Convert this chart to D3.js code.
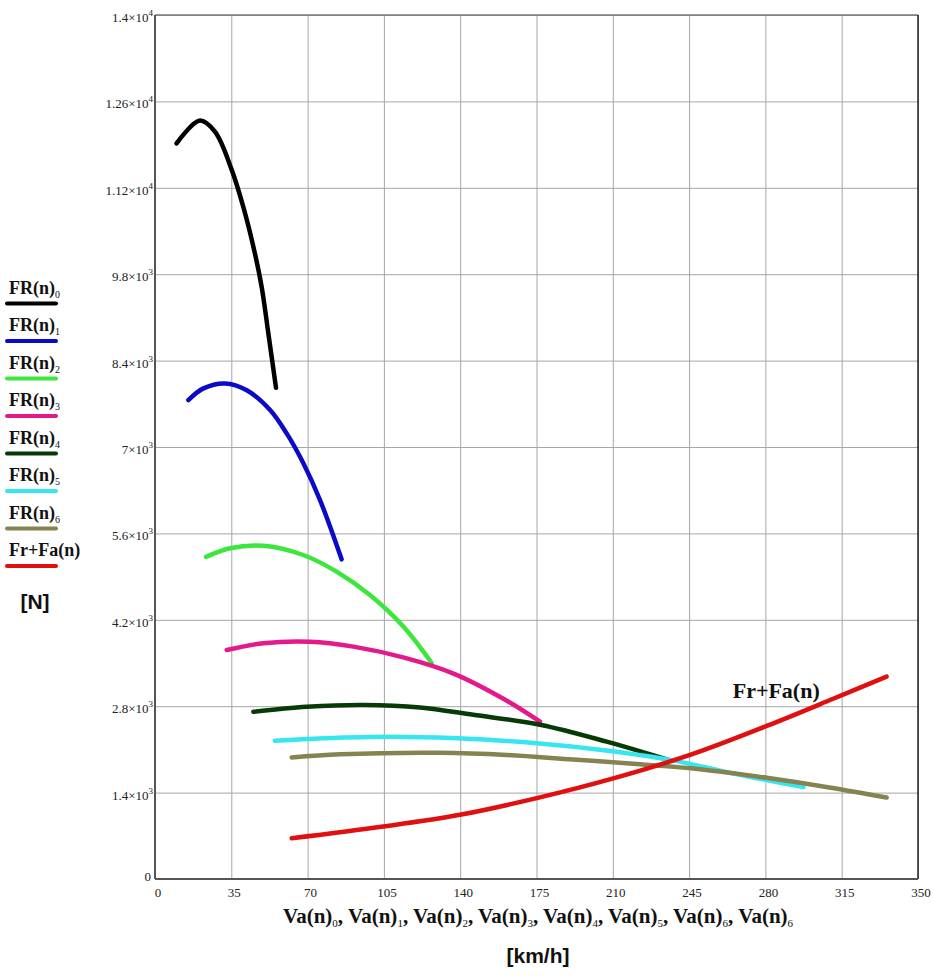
<!DOCTYPE html>
<html>
<head>
<meta charset="utf-8">
<script src="https://cdn.jsdelivr.net/npm/d3@7/dist/d3.min.js"></script>
<style>
  html, body { margin: 0; padding: 0; background: #fff; }
  svg { display: block; }
  .grid line { stroke: #a6a6a6; stroke-width: 1; }
  .grid path { display: none; }
  .tick-lbl { font-family: "Liberation Serif", "Times New Roman", serif; font-size: 13px; fill: #222; }
  .serif-b { font-family: "Liberation Serif", "Times New Roman", serif; font-weight: bold; fill: #111; }
  .sans-b { font-family: "Liberation Sans", Arial, sans-serif; font-weight: bold; fill: #111; }
</style>
</head>
<body>
<div id="chart"></div>
<script>
// Tractive force per gear FR(n)_i and resistance Fr+Fa(n) vs. vehicle speed
const xTicks = [0, 35, 70, 105, 140, 175, 210, 245, 280, 315, 350];
const yTicks = [0, 1400, 2800, 4200, 5600, 7000, 8400, 9800, 11200, 12600, 14000];
const yTickLabels = [["0", ""], ["1.4", "3"], ["2.8", "3"], ["4.2", "3"], ["5.6", "3"], ["7", "3"],
  ["8.4", "3"], ["9.8", "3"], ["1.12", "4"], ["1.26", "4"], ["1.4", "4"]];

const legendNames = [["FR(n)", "0"], ["FR(n)", "1"], ["FR(n)", "2"], ["FR(n)", "3"],
  ["FR(n)", "4"], ["FR(n)", "5"], ["FR(n)", "6"], ["Fr+Fa(n)", ""]];
const xTitleSubs = ["0", "1", "2", "3", "4", "5", "6", "6"];
const colors = ["#000000", "#0a0ac8", "#3ce63c", "#e3198c", "#073a07", "#38e6f0", "#858350", "#e01010"];

// speeds (km/h) and forces (N) per gear
const v0 = [9.9, 20.6, 27.5, 35.2, 40.5, 45.1, 48.9, 52.0, 55.5];
const f0 = [11920, 12290, 12110, 11490, 10890, 10250, 9600, 8840, 7960];
const v1 = [15.3, 22.2, 32.1, 42.1, 52.8, 60.4, 68.0, 75.7, 85.6];
const f1 = [7760, 7950, 8030, 7920, 7600, 7220, 6740, 6140, 5180];
const v2 = [23.4, 34.4, 49.7, 68.0, 83.3, 98.6, 113.9, 126.9];
const f2 = [5220, 5360, 5400, 5250, 4980, 4600, 4090, 3500];
const v3 = [32.9, 49.7, 71.1, 91.0, 113.9, 137.5, 159.8, 176.6];
const f3 = [3710, 3820, 3845, 3765, 3590, 3320, 2920, 2550];
const v4 = [45.1, 69.6, 95.6, 121.6, 146.0, 176.6, 207.2, 235.5];
const f4 = [2710, 2790, 2820, 2780, 2660, 2500, 2225, 1930];
const v5 = [55.0, 77.2, 107.8, 138.4, 175.1, 205.0, 236.2, 265.3, 297.4];
const f5 = [2240, 2280, 2305, 2280, 2200, 2090, 1930, 1710, 1490];
const v6 = [62.7, 84.9, 130.7, 161.3, 191.9, 222.5, 250.0, 280.6, 310.0, 335.6];
const f6 = [1970, 2020, 2045, 2010, 1935, 1860, 1780, 1640, 1480, 1320];
// rolling + aerodynamic resistance
const vR = [62.7, 104.7, 139.9, 175.1, 210.2, 245.4, 280.6, 311.1, 335.6];
const fR = [660, 850, 1040, 1310, 1630, 2010, 2480, 2920, 3280];

const seriesV = [v0, v1, v2, v3, v4, v5, v6, vR];
const seriesF = [f0, f1, f2, f3, f4, f5, f6, fR];

const width = 933, height = 978;
const m = { top: 15, right: 15, bottom: 99, left: 155 };
const iW = width - m.left - m.right, iH = height - m.top - m.bottom;

const x = d3.scaleLinear([0, 350], [0, iW]);
const y = d3.scaleLinear([0, 14000], [iH, 0]);

const svg = d3.select("#chart").append("svg").attr("width", width).attr("height", height);
const g = svg.append("g").attr("transform", `translate(${m.left},${m.top})`);

// gridlines
g.append("g").attr("class", "grid").attr("transform", `translate(0,${iH})`)
  .call(d3.axisBottom(x).tickValues(xTicks).tickSize(-iH).tickFormat(""));
g.append("g").attr("class", "grid")
  .call(d3.axisLeft(y).tickValues(yTicks).tickSize(-iW).tickFormat(""));

// frame
g.append("line").attr("x1", 0).attr("x2", iW).attr("y1", 0).attr("y2", 0).attr("stroke", "#777").attr("stroke-width", 1.5);
g.append("line").attr("x1", iW).attr("x2", iW).attr("y1", 0).attr("y2", iH).attr("stroke", "#222").attr("stroke-width", 1.5);
g.append("line").attr("x1", 0).attr("x2", 0).attr("y1", 0).attr("y2", iH).attr("stroke", "#555").attr("stroke-width", 2);
g.append("line").attr("x1", 0).attr("x2", iW).attr("y1", iH).attr("y2", iH).attr("stroke", "#555").attr("stroke-width", 2);

// x tick labels
g.append("g").selectAll("text").data(xTicks).join("text")
  .attr("class", "tick-lbl").attr("text-anchor", "middle")
  .attr("x", (d) => x(d) + 3).attr("y", iH + 18).text((d) => d);

// y tick labels with superscript exponent
const yl = g.append("g").selectAll("text").data(yTicks).join("text")
  .attr("class", "tick-lbl").attr("text-anchor", "end")
  .attr("x", -2).attr("y", (d) => y(d) + 7);
yl.each(function (d, i) {
  const [mant, ex] = yTickLabels[i];
  const t = d3.select(this);
  if (!ex) { t.attr("x", -4).attr("y", y(d) + 2).text(mant); return; }
  t.append("tspan").text(`${mant}\u00d710`);
  t.append("tspan").attr("dy", -6).attr("font-size", 9).text(ex);
});

// curves
const line = d3.line().x((p) => x(p[0])).y((p) => y(p[1])).curve(d3.curveCatmullRom.alpha(0.5));
seriesV.forEach((vs, i) => {
  const pts = vs.map((v, j) => [v, seriesF[i][j]]);
  g.append("path").datum(pts).attr("d", line)
    .attr("fill", "none").attr("stroke", colors[i]).attr("stroke-width", 4.5)
    .attr("stroke-linecap", "round").attr("stroke-linejoin", "round");
});

// annotation on resistance curve
g.append("text").attr("class", "serif-b").attr("font-size", 22)
  .attr("x", x(265)).attr("y", y(2930)).text("Fr+Fa(n)");

// legend
const lg = svg.append("g");
legendNames.forEach(([name, sub], i) => {
  const ly = 303.5 + i * 37.5;
  const t = lg.append("text").attr("class", "serif-b").attr("font-size", 18).attr("x", 9).attr("y", ly - 10);
  t.append("tspan").text(name);
  if (sub) t.append("tspan").attr("dy", 4).attr("font-size", 10).attr("font-weight", "normal").text(sub);
  lg.append("line").attr("x1", 7).attr("x2", 56).attr("y1", ly).attr("y2", ly)
    .attr("stroke", colors[i]).attr("stroke-width", 4).attr("stroke-linecap", "round");
});
lg.append("text").attr("class", "sans-b").attr("font-size", 21).attr("text-anchor", "middle")
  .attr("x", 35).attr("y", 609).text("[N]");

// x axis title
const xt = svg.append("text").attr("class", "serif-b").attr("font-size", 21).attr("text-anchor", "middle")
  .attr("x", 538).attr("y", 923);
xTitleSubs.forEach((sub, i) => {
  xt.append("tspan").attr("dy", i === 0 ? 0 : -4).text((i ? ", " : "") + "Va(n)");
  xt.append("tspan").attr("dy", 4).attr("font-size", 11).attr("font-weight", "normal").text(sub);
});
svg.append("text").attr("class", "sans-b").attr("font-size", 21).attr("text-anchor", "middle")
  .attr("x", 538).attr("y", 963).text("[km/h]");
</script>
</body>
</html>
